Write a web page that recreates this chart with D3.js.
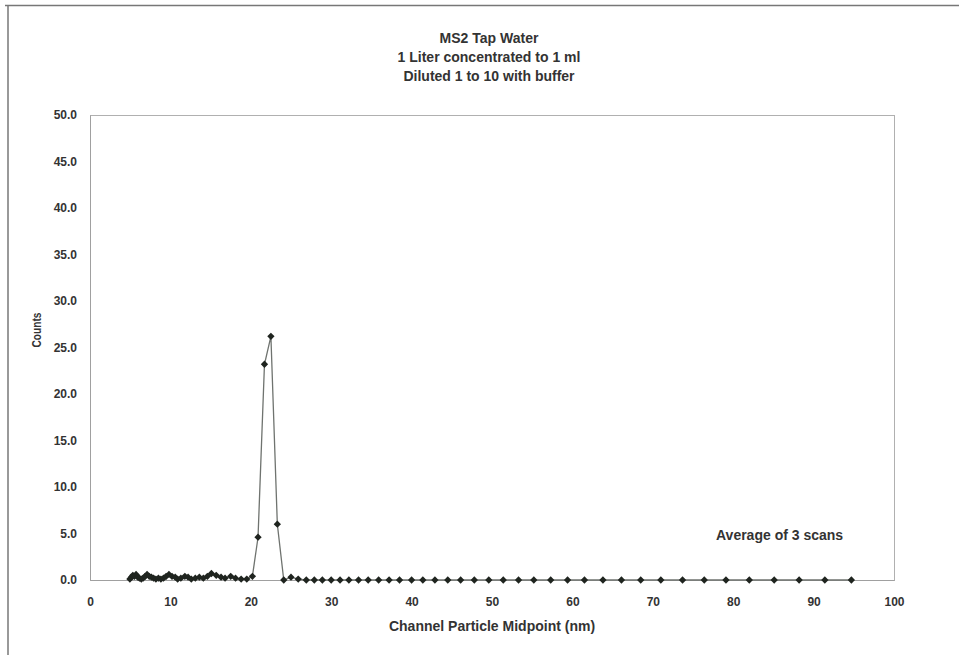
<!DOCTYPE html>
<html>
<head>
<meta charset="utf-8">
<script src="https://cdn.jsdelivr.net/npm/d3@7"></script>
<style>
  html, body { margin: 0; padding: 0; background: #fff; }
  svg { display: block; }
  text { font-family: Arial, "Liberation Sans", sans-serif; font-weight: bold; fill: #333; }
</style>
</head>
<body>
<script>
// ---- data ----
const titleLines = ["MS2 Tap Water", "1 Liter concentrated to 1 ml", "Diluted 1 to 10 with buffer"];
const xLabel = "Channel Particle Midpoint (nm)";
const yLabel = "Counts";
const noteText = "Average of 3 scans";
const xTicks = [0, 10, 20, 30, 40, 50, 60, 70, 80, 90, 100];
const yTicks = [0, 5, 10, 15, 20, 25, 30, 35, 40, 45, 50];

const midpoints = [4.96, 5.14, 5.33, 5.52, 5.73, 5.94, 6.15, 6.38, 6.61, 6.85,
  7.10, 7.37, 7.64, 7.91, 8.20, 8.51, 8.82, 9.14, 9.47, 9.82,
  10.2, 10.6, 10.9, 11.3, 11.8, 12.2, 12.6, 13.1, 13.6, 14.1,
  14.6, 15.1, 15.7, 16.3, 16.8, 17.5, 18.1, 18.8, 19.5,
  20.2, 20.9, 21.7, 22.5, 23.3, 24.1, 25.0, 25.9, 26.9, 27.9,
  28.9, 30.0, 31.1, 32.2, 33.4, 34.6, 35.9, 37.2, 38.5, 40.0,
  41.4, 42.9, 44.5, 46.1, 47.8, 49.6, 51.4, 53.3, 55.2, 57.3,
  59.4, 61.5, 63.8, 66.1, 68.5, 71.0, 73.7, 76.4, 79.1, 82.0,
  85.1, 88.2, 91.4, 94.7];

const counts = [0.1, 0.3, 0.5, 0.4, 0.6, 0.3, 0.2, 0.1, 0.2, 0.4,
  0.6, 0.4, 0.3, 0.2, 0.1, 0.2, 0.1, 0.2, 0.4, 0.6,
  0.4, 0.3, 0.1, 0.2, 0.4, 0.3, 0.1, 0.2, 0.3, 0.2,
  0.4, 0.7, 0.5, 0.3, 0.2, 0.4, 0.2, 0.1, 0.1,
  0.4, 4.6, 23.2, 26.2, 6.0, 0.0, 0.3, 0.1, 0.0, 0.0,
  0.0, 0.0, 0.0, 0.0, 0.0, 0.0, 0.0, 0.0, 0.0, 0.0,
  0.0, 0.0, 0.0, 0.0, 0.0, 0.0, 0.0, 0.0, 0.0, 0.0,
  0.0, 0.0, 0.0, 0.0, 0.0, 0.0, 0.0, 0.0, 0.0, 0.0,
  0.0, 0.0, 0.0, 0.0];

// ---- layout ----
const W = 959, H = 655;
const plot = { left: 90, right: 894, top: 115, bottom: 580 };

const svg = d3.select("body").append("svg").attr("width", W).attr("height", H);

// outer chart frame (top + left edges visible)
svg.append("line").attr("x1", 5).attr("x2", W).attr("y1", 5.5).attr("y2", 5.5)
  .attr("stroke", "#777").attr("stroke-width", 1.5);
svg.append("line").attr("x1", 8).attr("x2", 8).attr("y1", 5).attr("y2", H)
  .attr("stroke", "#777").attr("stroke-width", 1.5);

const x = d3.scaleLinear().domain([0, 100]).range([plot.left, plot.right]);
const y = d3.scaleLinear().domain([0, 50]).range([plot.bottom, plot.top]);

// plot area frame
svg.append("rect").attr("x", plot.left + 0.5).attr("y", plot.top + 0.5)
  .attr("width", plot.right - plot.left).attr("height", plot.bottom - plot.top)
  .attr("fill", "none").attr("stroke", "#b0b0b0").attr("stroke-width", 1);

// axes
const xAxis = d3.axisBottom(x).tickValues(xTicks).tickSize(0).tickPadding(17)
  .tickFormat(d3.format("d"));
const gx = svg.append("g").attr("transform", `translate(0,${plot.bottom})`).call(xAxis);
gx.select(".domain").attr("stroke", "#a0a0a0");
gx.selectAll("text").style("font-size", "12px").attr("fill", "#333")
  .style("font-family", "Arial, 'Liberation Sans', sans-serif").style("font-weight", "bold");

const yAxis = d3.axisLeft(y).tickValues(yTicks).tickSize(0).tickPadding(13)
  .tickFormat(d3.format(".1f"));
const gy = svg.append("g").attr("transform", `translate(${plot.left},0)`).call(yAxis);
gy.select(".domain").attr("stroke", "#a0a0a0");
gy.selectAll("text").style("font-size", "12px").attr("fill", "#333")
  .style("font-family", "Arial, 'Liberation Sans', sans-serif").style("font-weight", "bold");

// titles
const title = svg.append("text").attr("text-anchor", "middle").style("font-size", "14px");
titleLines.forEach((t, i) => {
  title.append("tspan").attr("x", 489).attr("y", 43 + i * 19).text(t);
});

svg.append("text").attr("x", 492).attr("y", 631).attr("text-anchor", "middle")
  .style("font-size", "14px").text(xLabel);

svg.append("text").attr("transform", `translate(41,330) rotate(-90)`)
  .attr("text-anchor", "middle").style("font-size", "12.5px")
  .attr("textLength", 35).attr("lengthAdjust", "spacingAndGlyphs").text(yLabel);

svg.append("text").attr("x", 716).attr("y", 540).style("font-size", "14px").text(noteText);

// series
const data = midpoints.map((m, i) => ({ x: m, y: counts[i] }));
const line = d3.line().x(d => x(d.x)).y(d => y(d.y));
svg.append("path").datum(data).attr("d", line)
  .attr("fill", "none").attr("stroke", "#6f736f").attr("stroke-width", 1.3);

const diamond = d3.symbol().type(d3.symbolDiamond2).size(34);
svg.selectAll(".pt").data(data).join("path")
  .attr("class", "pt")
  .attr("transform", d => `translate(${x(d.x)},${y(d.y)})`)
  .attr("d", diamond)
  .attr("fill", "#1f241f");
</script>
</body>
</html>
